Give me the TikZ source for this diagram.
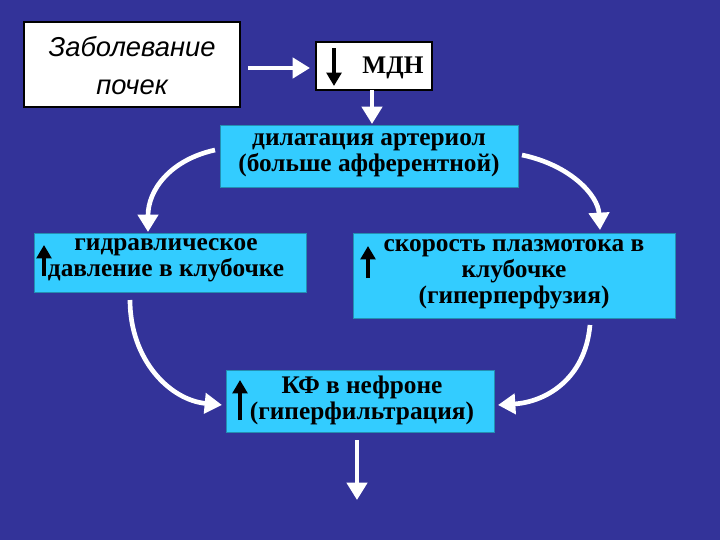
\documentclass[tikz,border=0pt]{standalone}
\usepackage{fontspec}
\setmainfont{Liberation Serif}
\newfontfamily\arialf{Liberation Sans}
\usetikzlibrary{arrows.meta}
\definecolor{bg}{HTML}{333399}
\definecolor{cy}{HTML}{33CCFF}
\begin{document}
\begin{tikzpicture}[x=0.75pt,y=-0.75pt,
  cbox/.style={fill=cy,draw=cy!70!black,line width=0.6pt},
  wbox/.style={fill=white,draw=black,line width=1pt},
  txt/.style={font=\bfseries\fontsize{19}{19.5}\selectfont,align=center,inner sep=0pt},
  warr/.style={white,line width=3.5pt,-{Triangle[length=13pt,width=15pt]}},
  barr/.style={black,line width=2.6pt,-{Triangle[length=10pt,width=11pt]}}]
\fill[bg] (0,0) rectangle (720,540);
\useasboundingbox (0,0) rectangle (720,540);
\draw[wbox] (24,22) rectangle (240,107);
\node[font=\arialf\itshape\fontsize{20.5}{28.5}\selectfont,align=center] (zab) at (132,66) {Заболевание\\почек};
\draw[wbox] (316,42) rectangle (432,90);
\node[txt] (mdn) at (393,68) {МДН};
\coordinate (m1) at (334,48); \coordinate (m2) at (334,86);
\draw[barr] (m1) -- (m2);
\coordinate (a1) at (248,68); \coordinate (a2) at (310,68);
\draw[warr] (a1) -- (a2);
\coordinate (b1) at (372,90); \coordinate (b2) at (372,124);
\draw[warr] (b1) -- (b2);
\draw[cbox] (220,125) rectangle (518,187);
\node[txt] (dil) at (369,155) {дилатация артериол\\(больше афферентной)};
\draw[cbox] (34,233) rectangle (306,292);
\node[txt] (gid) at (166,260) {гидравлическое\\давление в клубочке};
\draw[cbox] (353,233) rectangle (675,318);
\node[txt] (sk) at (514,274) {скорость плазмотока в\\клубочке\\(гиперперфузия)};
\draw[cbox] (226,370) rectangle (494,432);
\node[txt] (kf) at (362,400) {КФ в нефроне\\(гиперфильтрация)};
\coordinate (u1) at (44,276); \coordinate (u2) at (44,245);
\draw[barr] (u1) -- (u2);
\coordinate (u3) at (368,278); \coordinate (u4) at (368,246);
\draw[barr] (u3) -- (u4);
\coordinate (u5) at (240,420); \coordinate (u6) at (240,380);
\draw[barr] (u5) -- (u6);
\coordinate (c1) at (215,150); \coordinate (c2) at (148,232);
\draw[warr] (c1) .. controls (170,160) and (148,190) .. (c2);
\coordinate (c3) at (522,155); \coordinate (c4) at (600,230);
\draw[warr] (c3) .. controls (570,165) and (598,195) .. (c4);
\coordinate (c5) at (130,300); \coordinate (c6) at (222,405);
\draw[warr] (c5) .. controls (130,360) and (170,400) .. (c6);
\coordinate (c7) at (590,325); \coordinate (c8) at (498,405);
\draw[warr] (c7) .. controls (585,380) and (545,402) .. (c8);
\coordinate (d1) at (357,440); \coordinate (d2) at (357,500);
\draw[warr] (d1) -- (d2);
\end{tikzpicture}
\end{document}
